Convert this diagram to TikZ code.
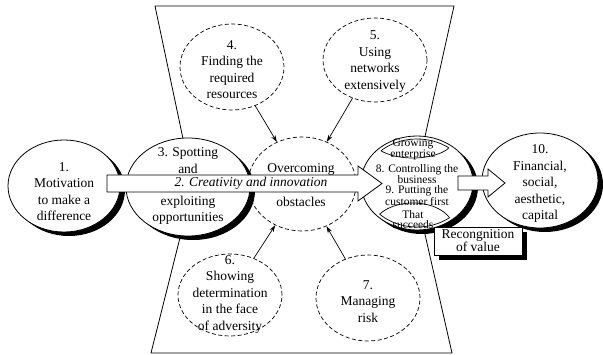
\documentclass[tikz,border=0pt]{standalone}
\usepackage{fontspec}
\setmainfont{Liberation Serif}
\usetikzlibrary{shapes.geometric,shadows,arrows.meta}
\begin{document}
\begin{tikzpicture}[x=1pt,y=-1pt,
  txt/.style={align=center,font=\fontsize{13.5}{16.5}\selectfont,inner sep=0pt},
  smalltxt/.style={align=center,font=\fontsize{11.5}{10.5}\selectfont,inner sep=0pt},
  dashell/.style={ellipse,draw,dash pattern=on 4pt off 2.5pt,line width=0.7pt,fill=white,inner sep=0pt},
  solidell/.style={ellipse,draw,line width=0.8pt,fill=white,inner sep=0pt,
    drop shadow={shadow xshift=5pt,shadow yshift=-4pt,fill=black,opacity=1}},
  link/.style={-{Stealth[length=7pt,width=4.5pt]},line width=0.7pt},
  bigarrow/.style={draw,line width=0.8pt,fill=white},
  thin/.style={line width=0.7pt}
]
\useasboundingbox (0,0) rectangle (603,355);
% hourglass frame
\draw[line width=0.8pt,fill=white] (155,6) -- (454,6) -- (414,186) -- (452,353) -- (151,353) -- (193,186) -- cycle;
% dashed ellipses
\node[dashell,minimum width=104pt,minimum height=86pt] (c4) at (232,67) {};
\node[dashell,minimum width=104pt,minimum height=84pt] (c5) at (375,60) {};
\node[dashell,minimum width=104pt,minimum height=82pt] (c6) at (230,295) {};
\node[dashell,minimum width=104pt,minimum height=86pt] (c7) at (368,298) {};
\node[dashell,minimum width=108pt,minimum height=94pt] (ov) at (302,184) {};
\draw[link] (c4) -- (ov);
\draw[link] (c5) -- (ov);
\draw[link] (c6) -- (ov);
\draw[link] (c7) -- (ov);
% solid circles with shadows
\node[solidell,minimum width=112pt,minimum height=92pt] (c1) at (64,186) {};
\node[solidell,minimum width=124pt,minimum height=98pt] (c3) at (188,187) {};
\node[solidell,minimum width=112pt,minimum height=94pt] (c8) at (417,183) {};
\begin{scope}
 \clip (417,183) ellipse [x radius=53pt, y radius=44pt];
 \draw[thin] (413,140) ellipse [x radius=40pt, y radius=18pt];
 \draw[thin] (413,228) ellipse [x radius=40pt, y radius=25pt];
\end{scope}
\begin{scope}
 \clip (413,140) ellipse [x radius=40pt, y radius=18pt];
 \draw[thin] (417,183) ellipse [x radius=53pt, y radius=44pt];
\end{scope}
\begin{scope}
 \clip (413,228) ellipse [x radius=40pt, y radius=25pt];
 \draw[thin] (417,183) ellipse [x radius=53pt, y radius=44pt];
\end{scope}
\node[solidell,minimum width=116pt,minimum height=95pt] (c10) at (540,180.5) {};
% big arrows
\draw[bigarrow] (107,175) -- (358,175) -- (358,166) -- (382,183.5) -- (358,201) -- (358,192) -- (107,192) -- cycle;
\node[txt,font=\fontsize{13.5}{16.5}\selectfont\itshape] (t2) at (251,183.5) {2. Creativity and innovation};
\draw[bigarrow] (458,176) -- (488,176) -- (488,169) -- (505,183) -- (488,197) -- (488,190) -- (458,190) -- cycle;
% recognition box
\node[draw,fill=white,line width=0.8pt,minimum width=88pt,minimum height=28pt,inner sep=0pt,
  align=center,font=\fontsize{13.5}{13}\selectfont,
  drop shadow={shadow xshift=5pt,shadow yshift=-5pt,fill=black,opacity=1}] (rv) at (478,241) {Recongnition\\of value};
% texts
\node[txt] (t1) at (64,191.5) {1.\\Motivation\\to make a\\difference};
\node[txt] (t3a) at (188,160.5) {3. Spotting\\and};
\node[txt] (t3b) at (188,210.5) {exploiting\\opportunities};
\node[txt] (tova) at (301,169) {Overcoming};
\node[txt] (tovb) at (301,202) {obstacles};
\node[txt] (t4) at (232,69.5) {4.\\Finding the\\required\\resources};
\node[txt] (t5) at (375,61.5) {5.\\Using\\networks\\extensively};
\node[txt] (t6) at (230,294) {6.\\Showing\\determination\\in the face\\of adversity};
\node[txt] (t7) at (368,301.5) {7.\\Managing\\risk};
\node[txt] (t10) at (540,183.5) {10.\\Financial,\\social,\\aesthetic,\\capital};
\node[smalltxt] (t8a) at (413,149.5) {Growing\\enterprise};
\node[smalltxt] (t8b) at (417,185) {8. Controlling the\\business\\9. Putting the\\customer first};
\node[smalltxt] (t8c) at (413,219.5) {That\\succeeds};
\end{tikzpicture}
\end{document}
